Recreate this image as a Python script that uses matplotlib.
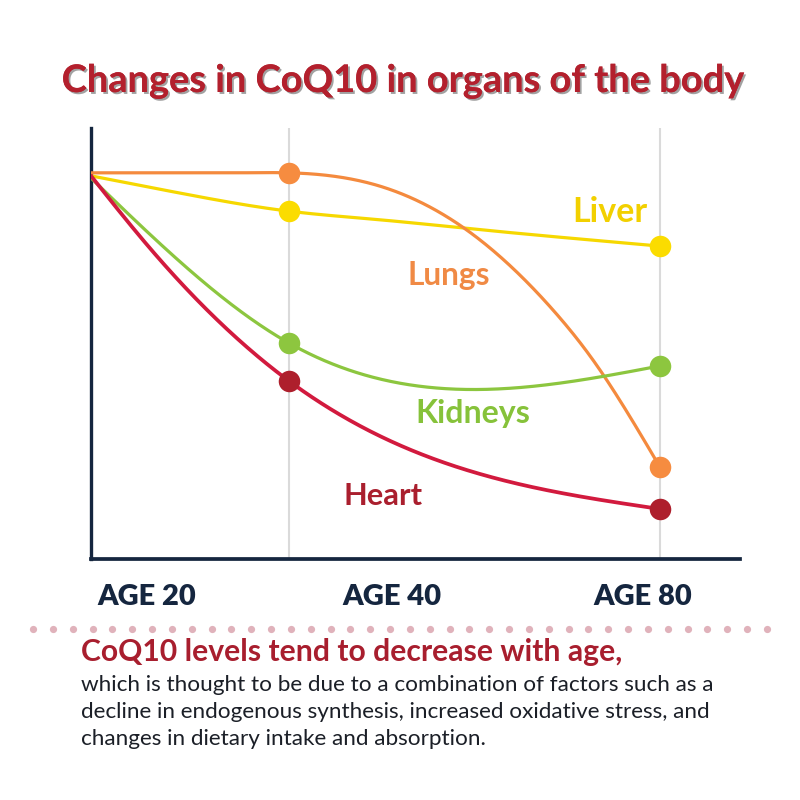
import numpy as np
import matplotlib
matplotlib.use("Agg")
import matplotlib.pyplot as plt
import matplotlib.patheffects as pe

# ---------------- data ----------------
age_labels = ["AGE 20", "AGE 40", "AGE 80"]
# horizontal positions of the three age gridlines (schematic spacing of the original)
age_pos = [0.0, 1.0, 2.874]

# CoQ10 level (relative, 0-100) at the three ages
lungs = [89.6, 89.6, 21.3]
liver = [88.9, 80.7, 72.6]
kidneys = [88.4, 50.1, 44.8]
heart = [88.9, 41.3, 11.6]

# extra readings along the curves between the marked ages
lungs_trace_x = [0.25, 0.5, 0.75, 1.460, 1.899, 2.333, 2.535]
lungs_trace_y = [89.6, 89.6, 89.6, 86.5, 76.3, 57.8, 46.2]
liver_trace_x = [0.449, 1.460, 1.879]
liver_trace_y = [84.9, 78.7, 76.8]
heart_trace_x = [0.283]
heart_trace_y = [72.9]

series_names = ["Liver", "Lungs", "Kidneys", "Heart"]

title = "Changes in CoQ10 in organs of the body"
note_head = "CoQ10 levels tend to decrease with age,"
note_lines = [
    "which is thought to be due to a combination of factors such as a",
    "decline in endogenous synthesis, increased oxidative stress, and",
    "changes in dietary intake and absorption.",
]


# ---------------- helpers ----------------
def natural_spline(x, y, xs):
    x = np.asarray(x, float)
    y = np.asarray(y, float)
    n = len(x)
    h = np.diff(x)
    A = np.zeros((n, n))
    r = np.zeros(n)
    A[0, 0] = A[-1, -1] = 1.0
    for i in range(1, n - 1):
        A[i, i - 1] = h[i - 1]
        A[i, i] = 2 * (h[i - 1] + h[i])
        A[i, i + 1] = h[i]
        r[i] = 6 * ((y[i + 1] - y[i]) / h[i] - (y[i] - y[i - 1]) / h[i - 1])
    M = np.linalg.solve(A, r)
    idx = np.clip(np.searchsorted(x, xs) - 1, 0, n - 2)
    hi = h[idx]
    a = x[idx + 1] - xs
    b = xs - x[idx]
    return (M[idx] * a**3 / (6 * hi) + M[idx + 1] * b**3 / (6 * hi)
            + (y[idx] / hi - M[idx] * hi / 6) * a
            + (y[idx + 1] / hi - M[idx + 1] * hi / 6) * b)


def curve(marks, tx=(), ty=()):
    px = np.array(list(age_pos) + list(tx))
    py = np.array(list(marks) + list(ty))
    o = np.argsort(px)
    xs = np.linspace(px.min(), px.max(), 500)
    return xs, natural_spline(px[o], py[o], xs)


# ---------------- figure ----------------
fig = plt.figure(figsize=(8, 8), dpi=100)
fig.patch.set_facecolor("white")

# main axes: left spine at x=91px, bottom spine at y=559px, top 128px, right 740px
ax = fig.add_axes([91 / 800, 1 - 559 / 800, (740 - 91) / 800, (559 - 128) / 800])
ax.set_xlim(0, 3.278)
ax.set_ylim(0, 100)
for s in ["top", "right"]:
    ax.spines[s].set_visible(False)
navy = "#15263f"
ax.spines["left"].set_color(navy)
ax.spines["left"].set_linewidth(2.4)
ax.spines["bottom"].set_color(navy)
ax.spines["bottom"].set_linewidth(2.7)
ax.set_xticks([])
ax.set_yticks([])
for p in age_pos[1:]:
    ax.axvline(p, color="#dadada", lw=1.5, zorder=0)

styles = {
    "Liver": dict(line="#f6d800", mark="#fbdc00", lw=2.3, z=3),
    "Lungs": dict(line="#f48a3e", mark="#f68c40", lw=2.3, z=4),
    "Kidneys": dict(line="#8cc63f", mark="#8dc63f", lw=2.3, z=5),
    "Heart": dict(line="#d21a3e", mark="#ae1f2c", lw=2.7, z=6),
}
curves = {
    "Liver": curve(liver, liver_trace_x, liver_trace_y),
    "Lungs": curve(lungs, lungs_trace_x, lungs_trace_y),
    "Kidneys": curve(kidneys),
    "Heart": curve(heart, heart_trace_x, heart_trace_y),
}
marks_of = {"Liver": liver, "Lungs": lungs, "Kidneys": kidneys, "Heart": heart}
for name in series_names:
    st = styles[name]
    xs, ys = curves[name]
    ax.plot(xs, ys, color=st["line"], lw=st["lw"], zorder=st["z"],
            solid_capstyle="round")
    ax.plot(age_pos[1:], marks_of[name][1:], "o", ms=15.5, color=st["mark"],
            mec="none", zorder=st["z"] + 10, clip_on=False)

# overlay axes in pixel coordinates for text and decoration
ov = fig.add_axes([0, 0, 1, 1], zorder=5)
ov.set_xlim(0, 800)
ov.set_ylim(800, 0)
ov.axis("off")
ov.patch.set_visible(False)

fits = []

t = ov.text(403.5, 92, title, ha="center", va="baseline", fontsize=30,
            fontfamily="Lato", fontweight="bold", color="#b3202d",
            path_effects=[pe.withSimplePatchShadow(offset=(1.4, -1.4),
                                                   shadow_rgbFace="#444444",
                                                   alpha=0.5),
                          pe.Normal()])
fits.append((t, 683))

for lab, cx in zip(age_labels, [146.5, 391.5, 642.5]):
    t = ov.text(cx, 605, lab, ha="center", va="baseline", fontsize=18,
                fontfamily="Lato", fontweight="heavy", color=navy)
    fits.append((t, 99))

label_pos = {
    "Liver": (609.5, 222, 75, "#f2d000"),
    "Lungs": (448.5, 285, 83, "#f08a45"),
    "Kidneys": (472.5, 423, 115, "#86c23a"),
    "Heart": (382.5, 505, 79, "#aa1f2e"),
}
for name in series_names:
    cx, by, w, c = label_pos[name]
    t = ov.text(cx, by, name, ha="center", va="baseline", fontsize=18,
                fontfamily="Lato", fontweight="bold", color=c)
    fits.append((t, w))

# dotted separator
ov.plot(np.linspace(33, 767, 38), np.full(38, 629.0), "o", ms=5.2,
        color="#e0b2bb", mec="none")

t = ov.text(81, 661, note_head, ha="left", va="baseline", fontsize=18,
            fontfamily="Lato", fontweight="bold", color="#a81e2e")
fits.append((t, 542))

body = []
for line, by in zip(note_lines, [691, 718, 745]):
    tb = ov.text(81, by, line, ha="left", va="baseline", fontsize=14,
                 fontfamily="Lato", color="#1b1f27")
    body.append(tb)

fig.canvas.draw()
r = fig.canvas.get_renderer()
for _ in range(3):
    for t, w in fits:
        bb = t.get_window_extent(r)
        t.set_fontsize(t.get_fontsize() * w / bb.width)
    bb = body[0].get_window_extent(r)
    fs = body[0].get_fontsize() * 631 / bb.width
    for tb in body:
        tb.set_fontsize(fs)

fig.savefig("out.png", dpi=100, facecolor="white")
